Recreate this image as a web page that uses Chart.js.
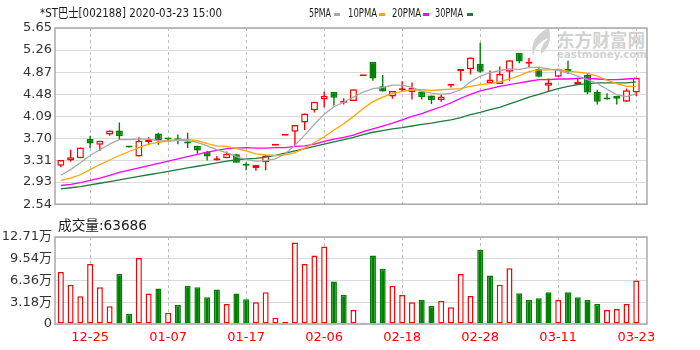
<!DOCTYPE html>
<html>
<head>
<meta charset="utf-8">
<script src="https://cdn.jsdelivr.net/npm/chart.js@4.4.0/dist/chart.umd.min.js"></script>
<style>
  body { margin: 0; background: #fff; width: 700px; height: 350px; overflow: hidden; position: relative; }
  canvas { position: absolute; left: 0; }
  #priceChart { top: 0; }
  #volChart { top: 215px; }
  .txt { position: absolute; white-space: nowrap; transform-origin: 0 50%; font-family: 'DejaVu Sans', 'Noto Sans CJK SC', sans-serif; color: #1a1a1a; }
  .sw { position: absolute; width: 6px; height: 3px; }
  .wm { position: absolute; white-space: nowrap; transform-origin: 0 50%; color: #d2d2d2; font-weight: bold; font-family: 'Noto Sans CJK SC', 'DejaVu Sans', sans-serif; }
</style>
</head>
<body>
<svg style="position:absolute;left:527px;top:27px" width="28" height="30" viewBox="0 0 28 30">
  <path d="M22 1 C10 6 3 16 6 29 C8 20 13 14 22 11 C16 16 13 21 14 27 C21 22 25 13 22 1 Z" fill="#d2d2d2"/>
</svg>
<div class="wm" id="wm1" style="font-size:18px;line-height:18px">东方财富网</div>
<div class="wm" id="wm2" style="font-size:11px;line-height:11px;font-family:'DejaVu Sans',sans-serif">eastmoney.com</div>

<canvas id="priceChart" width="700" height="215"></canvas>
<canvas id="volChart" width="700" height="135"></canvas>

<div class="txt" id="title" style="font-size:13px;line-height:13px">*ST巴士[002188] 2020-03-23 15:00</div>
<div class="txt" id="lg0" style="font-size:12px;line-height:12px">5PMA</div>
<div class="txt" id="lg1" style="font-size:12px;line-height:12px">10PMA</div>
<div class="txt" id="lg2" style="font-size:12px;line-height:12px">20PMA</div>
<div class="txt" id="lg3" style="font-size:12px;line-height:12px">30PMA</div>
<div class="sw" id="sw0"></div>
<div class="sw" id="sw1"></div>
<div class="sw" id="sw2"></div>
<div class="sw" id="sw3"></div>
<div class="txt" id="volTitle" style="font-size:14px;line-height:14px">成交量:63686</div>

<script>
// Data
const dates = ['12-20', '12-23', '12-24', '12-25', '12-26', '12-27', '12-30', '12-31', '01-02', '01-03',
  '01-06', '01-07', '01-08', '01-09', '01-10', '01-13', '01-14', '01-15', '01-16', '01-17',
  '01-20', '01-21', '01-22', '01-23', '02-03', '02-04', '02-05', '02-06', '02-07', '02-10',
  '02-11', '02-12', '02-13', '02-14', '02-17', '02-18', '02-19', '02-20', '02-21', '02-24',
  '02-25', '02-26', '02-27', '02-28', '03-02', '03-03', '03-04', '03-05', '03-06', '03-09',
  '03-10', '03-11', '03-12', '03-13', '03-16', '03-17', '03-18', '03-19', '03-20', '03-23'];

const xTickLabels = ['12-25', '01-07', '01-17', '02-06', '02-18', '02-28', '03-11', '03-23'];

const opens = [3.22, 3.31, 3.35, 3.69, 3.59, 3.77, 3.84, 3.55, 3.38, 3.64,
  3.79, 3.69, 3.69, 3.62, 3.57, 3.46, 3.31, 3.35, 3.42, 3.23,
  3.18, 3.28, 3.57, 3.75, 3.82, 3.98, 4.20, 4.39, 4.52, 4.33,
  4.36, 4.80, 5.05, 4.62, 4.44, 4.55, 4.52, 4.53, 4.46, 4.38,
  4.63, 4.89, 4.92, 5.02, 4.68, 4.66, 4.88, 5.21, 5.02, 4.93,
  4.63, 4.79, 4.93, 4.65, 4.82, 4.52, 4.40, 4.45, 4.35, 4.51];

const highs = [3.32, 3.50, 3.54, 3.75, 3.66, 3.84, 3.98, 3.55, 3.72, 3.72,
  3.80, 3.70, 3.77, 3.80, 3.57, 3.48, 3.39, 3.47, 3.43, 3.28,
  3.23, 3.41, 3.57, 3.75, 3.94, 4.14, 4.35, 4.53, 4.52, 4.41,
  4.57, 4.80, 5.05, 4.82, 4.54, 4.71, 4.69, 4.54, 4.46, 4.49,
  4.66, 4.89, 5.13, 5.39, 4.90, 4.97, 5.08, 5.21, 5.12, 4.94,
  4.76, 4.93, 5.07, 4.77, 4.85, 4.56, 4.50, 4.45, 4.58, 4.77];

const lows = [3.19, 3.29, 3.35, 3.53, 3.48, 3.75, 3.68, 3.54, 3.38, 3.58,
  3.59, 3.66, 3.60, 3.53, 3.43, 3.31, 3.31, 3.35, 3.27, 3.14,
  3.13, 3.14, 3.57, 3.75, 3.58, 3.85, 4.16, 4.25, 4.28, 4.30,
  4.36, 4.80, 4.72, 4.53, 4.40, 4.53, 4.39, 4.39, 4.31, 4.35,
  4.60, 4.72, 4.83, 4.86, 4.68, 4.66, 4.72, 5.03, 4.96, 4.78,
  4.52, 4.79, 4.84, 4.65, 4.48, 4.30, 4.39, 4.30, 4.35, 4.45];

const closes = [3.32, 3.37, 3.54, 3.61, 3.66, 3.84, 3.74, 3.54, 3.66, 3.68,
  3.67, 3.68, 3.67, 3.61, 3.49, 3.38, 3.35, 3.43, 3.27, 3.22,
  3.23, 3.40, 3.57, 3.75, 3.94, 4.14, 4.35, 4.45, 4.42, 4.35,
  4.57, 4.80, 4.76, 4.53, 4.54, 4.57, 4.59, 4.43, 4.38, 4.44,
  4.66, 4.89, 5.13, 4.88, 4.74, 4.84, 5.08, 5.06, 5.03, 4.79,
  4.69, 4.93, 4.88, 4.70, 4.51, 4.35, 4.39, 4.40, 4.55, 4.77];

// 成交量, 单位: 万手
const volumes = [7.58, 5.72, 4.06, 8.75, 5.38, 2.59, 7.29, 1.51, 9.63, 4.44,
  5.18, 1.66, 2.79, 5.57, 5.38, 3.91, 5.03, 2.93, 4.44, 3.62,
  3.18, 4.65, 0.92, 0.34, 11.92, 8.75, 10.01, 11.33, 6.20, 4.25,
  2.05, 0.19, 10.01, 8.02, 5.57, 4.25, 3.18, 3.56, 2.64, 3.37,
  2.45, 7.29, 4.10, 10.85, 7.08, 5.72, 8.16, 4.50, 3.52, 3.77,
  4.65, 3.52, 4.65, 3.91, 3.52, 2.93, 2.05, 2.20, 2.93, 6.3686];

const ma5 = [3.05, 3.15, 3.27, 3.40, 3.50, 3.60, 3.68, 3.68, 3.69, 3.69,
  3.66, 3.65, 3.67, 3.66, 3.63, 3.57, 3.50, 3.45, 3.38, 3.33,
  3.30, 3.31, 3.34, 3.43, 3.58, 3.76, 3.95, 4.13, 4.26, 4.34,
  4.43, 4.52, 4.58, 4.60, 4.64, 4.64, 4.60, 4.53, 4.50, 4.48,
  4.50, 4.56, 4.70, 4.80, 4.86, 4.90, 4.93, 4.92, 4.95, 4.96,
  4.93, 4.90, 4.86, 4.80, 4.74, 4.67, 4.57, 4.47, 4.44, 4.49];

const ma10 = [2.96, 3.00, 3.06, 3.15, 3.24, 3.32, 3.40, 3.47, 3.54, 3.60,
  3.63, 3.66, 3.68, 3.68, 3.66, 3.61, 3.57, 3.56, 3.52, 3.48,
  3.43, 3.41, 3.40, 3.41, 3.45, 3.53, 3.63, 3.73, 3.85, 3.96,
  4.09, 4.23, 4.35, 4.43, 4.49, 4.53, 4.56, 4.56, 4.55, 4.56,
  4.57, 4.58, 4.62, 4.65, 4.67, 4.70, 4.75, 4.81, 4.88, 4.91,
  4.91, 4.92, 4.89, 4.87, 4.85, 4.80, 4.73, 4.67, 4.62, 4.62];

const ma20 = [2.87, 2.89, 2.92, 2.96, 3.00, 3.05, 3.10, 3.14, 3.18, 3.22,
  3.26, 3.30, 3.34, 3.38, 3.42, 3.46, 3.49, 3.52, 3.53, 3.54,
  3.53, 3.53, 3.54, 3.54, 3.56, 3.57, 3.60, 3.65, 3.69, 3.72,
  3.76, 3.82, 3.87, 3.92, 3.97, 4.03, 4.09, 4.14, 4.20, 4.26,
  4.33, 4.41, 4.48, 4.54, 4.58, 4.62, 4.65, 4.68, 4.71, 4.74,
  4.74, 4.75, 4.75, 4.76, 4.76, 4.75, 4.74, 4.74, 4.75, 4.76];

const ma30 = [2.81, 2.83, 2.85, 2.88, 2.91, 2.94, 2.97, 3.00, 3.03, 3.06,
  3.09, 3.12, 3.15, 3.18, 3.21, 3.24, 3.27, 3.30, 3.32, 3.34,
  3.35, 3.37, 3.40, 3.44, 3.48, 3.52, 3.56, 3.60, 3.64, 3.68,
  3.72, 3.77, 3.81, 3.84, 3.87, 3.89, 3.92, 3.95, 3.97, 4.00,
  4.03, 4.07, 4.12, 4.16, 4.21, 4.25, 4.31, 4.37, 4.43, 4.48,
  4.53, 4.58, 4.62, 4.65, 4.67, 4.68, 4.68, 4.68, 4.68, 4.70];

const priceTicks = [2.54, 2.93, 3.31, 3.70, 4.09, 4.48, 4.87, 5.26, 5.65];
const volTicks = [0, 3.18, 6.36, 9.54, 12.71];

const maNames = ['5PMA', '10PMA', '20PMA', '30PMA'];
const maColors = ['#a8a8a8', '#ffa500', '#ff00ff', '#1f7a3c'];

// Colors
const RED = '#ff0000';
const GREEN = '#008000';
const candleColors = closes.map((c, i) => (c >= opens[i] ? RED : GREEN));
const bodyFill = closes.map((c, i) => (c >= opens[i] ? '#ffffff' : GREEN));
const volColors = volumes.map((v, i) => {
  const prev = i === 0 ? opens[0] : closes[i - 1];
  return closes[i] >= prev ? RED : GREEN;
});
const volFill = volColors.map(c => (c === RED ? '#ffffff' : GREEN));

const markIdx = xTickLabels.map(l => dates.indexOf(l));

Chart.defaults.font.family = "'DejaVu Sans', 'Noto Sans CJK SC', sans-serif";
Chart.defaults.color = '#333';

// Plot frame
const framePlugin = {
  id: 'frame',
  afterDraw(chart) {
    const a = chart.chartArea;
    const ctx = chart.ctx;
    ctx.save();
    ctx.strokeStyle = '#a9a9a9';
    ctx.lineWidth = 1.5;
    ctx.strokeRect(a.left, a.top, a.right - a.left, a.bottom - a.top);
    ctx.restore();
  }
};

function xScale(showLabels) {
  return {
    type: 'linear',
    min: -0.6,
    max: 60.1,
    offset: false,
    afterBuildTicks: axis => { axis.ticks = markIdx.map(v => ({ value: v })); },
    afterFit: axis => { axis.height = showLabels ? 26 : 5; },
    grid: { offset: false, color: '#bdbdbd', lineWidth: 1, drawTicks: false },
    border: { display: false, dash: [3, 3] },
    ticks: {
      display: showLabels,
      autoSkip: false,
      maxRotation: 0,
      padding: 6,
      color: RED,
      font: { size: 13 },
      callback: v => dates[v]
    }
  };
}

// Price chart
const pts = arr => arr.map((v, i) => ({ x: i, y: v }));
const maSets = [ma5, ma10, ma20, ma30].map((arr, k) => ({
  type: 'line',
  label: maNames[k],
  data: pts(arr),
  borderColor: maColors[k],
  borderWidth: 1.3,
  pointRadius: 0,
  tension: 0,
  order: 0
}));

new Chart(document.getElementById('priceChart'), {
  type: 'bar',
  data: {
    datasets: [
      ...maSets,
      {
        label: 'body',
        data: opens.map((o, i) => ({ x: i, y: [o, closes[i]] })),
        backgroundColor: bodyFill,
        borderColor: candleColors,
        borderWidth: 1.5,
        borderSkipped: false,
        inflateAmount: 0,
        barThickness: 7,
        minBarLength: 2,
        grouped: false,
        order: 1
      },
      {
        label: 'wick',
        data: lows.map((l, i) => ({ x: i, y: [l, highs[i]] })),
        backgroundColor: candleColors,
        borderWidth: 0,
        inflateAmount: 0,
        barThickness: 1.4,
        grouped: false,
        order: 2
      }
    ]
  },
  options: {
    responsive: false,
    animation: false,
    devicePixelRatio: 1,
    layout: { padding: { left: 0, right: 53, top: 28, bottom: 0 } },
    plugins: { legend: { display: false }, tooltip: { enabled: false } },
    scales: {
      x: xScale(false),
      y: {
        min: 2.54,
        max: 5.65,
        afterBuildTicks: axis => { axis.ticks = priceTicks.map(v => ({ value: v })); },
        afterFit: axis => { axis.width = 55; },
        grid: { color: '#dadada', drawTicks: false },
        border: { display: false },
        ticks: { padding: 3, font: { size: 13 }, color: '#333', callback: v => v.toFixed(2) }
      }
    }
  },
  plugins: [framePlugin]
});

// Volume chart
new Chart(document.getElementById('volChart'), {
  type: 'bar',
  data: {
    datasets: [{
      label: '成交量',
      data: volumes.map((v, i) => ({ x: i, y: v })),
      backgroundColor: volFill,
      borderColor: volColors,
      borderWidth: 1.5,
      borderSkipped: false,
      inflateAmount: 0,
      barThickness: 6,
      grouped: false
    }]
  },
  options: {
    responsive: false,
    animation: false,
    devicePixelRatio: 1,
    layout: { padding: { left: 0, right: 53, top: 22, bottom: 0 } },
    plugins: { legend: { display: false }, tooltip: { enabled: false } },
    scales: {
      x: xScale(true),
      y: {
        min: 0,
        max: 12.71,
        afterBuildTicks: axis => { axis.ticks = volTicks.map(v => ({ value: v })); },
        afterFit: axis => { axis.width = 55; },
        grid: { color: '#dadada', drawTicks: false },
        border: { display: false },
        ticks: { padding: 3, font: { size: 13 }, color: '#333', callback: v => (v === 0 ? '0' : v.toFixed(2) + '万') }
      }
    }
  },
  plugins: [framePlugin]
});

// Text placement: squeeze text to the target width
function place(id, left, midY, width) {
  const el = document.getElementById(id);
  const h = parseFloat(el.style.lineHeight);
  el.style.left = left + 'px';
  el.style.top = (midY - h / 2) + 'px';
  if (width) {
    const w = el.getBoundingClientRect().width;
    el.style.transform = 'scaleX(' + (width / w) + ')';
  }
}

place('title', 40, 12.5, 182);
const lgPos = [[309, 22, 334], [348, 29, 379], [392, 29, 423], [435, 28, 467]];
lgPos.forEach((p, k) => {
  place('lg' + k, p[0], 12.5, p[1]);
  const sw = document.getElementById('sw' + k);
  sw.style.left = p[2] + 'px';
  sw.style.top = '12.5px';
  sw.style.background = maColors[k];
});
document.getElementById('volTitle').textContent = '成交量:' + Math.round(volumes[volumes.length - 1] * 10000);
place('volTitle', 58, 225, 89);
place('wm1', 557, 39, 88);
place('wm2', 557, 54.5, 90);
</script>
</body>
</html>
